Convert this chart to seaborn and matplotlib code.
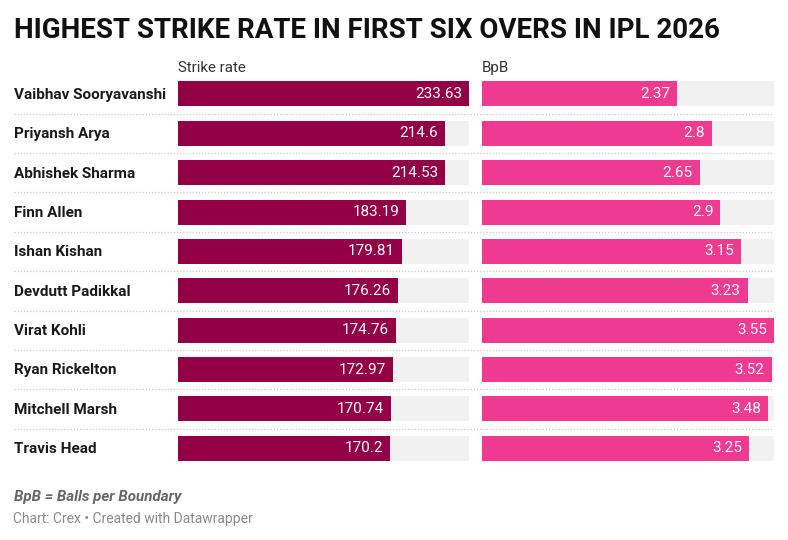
import matplotlib
matplotlib.use("Agg")
import pandas as pd
import seaborn as sns
import matplotlib.pyplot as plt
from matplotlib.transforms import blended_transform_factory

players = ["Vaibhav Sooryavanshi", "Priyansh Arya", "Abhishek Sharma", "Finn Allen",
           "Ishan Kishan", "Devdutt Padikkal", "Virat Kohli", "Ryan Rickelton",
           "Mitchell Marsh", "Travis Head"]
strike_rate = [233.63, 214.6, 214.53, 183.19, 179.81, 176.26, 174.76, 172.97, 170.74, 170.2]
bpb = [2.37, 2.8, 2.65, 2.9, 3.15, 3.23, 3.55, 3.52, 3.48, 3.25]

df = pd.DataFrame({"player": players, "Strike rate": strike_rate, "BpB": bpb})

sns.set_theme(style="white")
plt.rcParams['font.family'] = ['Roboto', 'DejaVu Sans']

W, H = 788, 540
fig = plt.figure(figsize=(W / 100, H / 100), dpi=100)


def px_axes(x0, y0, x1, y1):
    return fig.add_axes([x0 / W, 1 - y1 / H, (x1 - x0) / W, (y1 - y0) / H])


top, bottom = 74.3, 468.0
n = len(players)

# row separators + names
ax_bg = px_axes(14, top, 774, bottom)
ax_bg.set_xlim(0, 1)
ax_bg.set_ylim(n - 0.5, -0.5)
ax_bg.axis("off")
for k in range(n - 1):
    ax_bg.axhline(k + 0.5, color="#c8c8c8", lw=0.9, ls=(0, (1, 1.5)))
for i, name in enumerate(players):
    ax_bg.text(0, i + 0.02, name, ha="left", va="center", fontsize=11, fontweight="bold",
               color="#1a1a1a")

cols = [("Strike rate", "#940046", 178, 469), ("BpB", "#ee3a91", 481.5, 774)]
for col, color, x0, x1 in cols:
    ax = px_axes(x0, top, x1, bottom)
    vmax = df[col].max()
    df["track"] = vmax
    sns.barplot(data=df, x="track", y="player", color="#f1f1f1", saturation=1,
                width=0.635, linewidth=0, ax=ax)
    sns.barplot(data=df, x=col, y="player", color=color, saturation=1,
                width=0.635, linewidth=0, ax=ax)
    ax.set_xlim(0, vmax)
    ax.set_ylim(n - 0.5, -0.5)
    ax.axis("off")
    for i, v in enumerate(df[col]):
        ax.annotate(f"{v:g}", xy=(v, i), xytext=(-7, 0), textcoords="offset pixels",
                    ha="right", va="center", color="white", fontsize=11)
    tr = blended_transform_factory(ax.transData, fig.transFigure)
    ax.text(0, 1 - 72 / H, col, transform=tr, ha="left", va="baseline",
            fontsize=10.9, color="#333333")

fig.text(14 / W, 1 - 37.5 / H, "HIGHEST STRIKE RATE IN FIRST SIX OVERS IN IPL 2026",
         ha="left", va="baseline", fontsize=20, fontweight="bold", color="#111111")
fig.text(14 / W, 1 - 501.5 / H, "BpB = Balls per Boundary", ha="left", va="baseline",
         fontsize=10.9, fontweight="bold", fontstyle="italic", color="#666666")
fig.text(13 / W, 1 - 522.5 / H, "Chart: Crex • Created with Datawrapper", ha="left",
         va="baseline", fontsize=10, color="#8a8a8a")

fig.savefig("out.png", dpi=100)
